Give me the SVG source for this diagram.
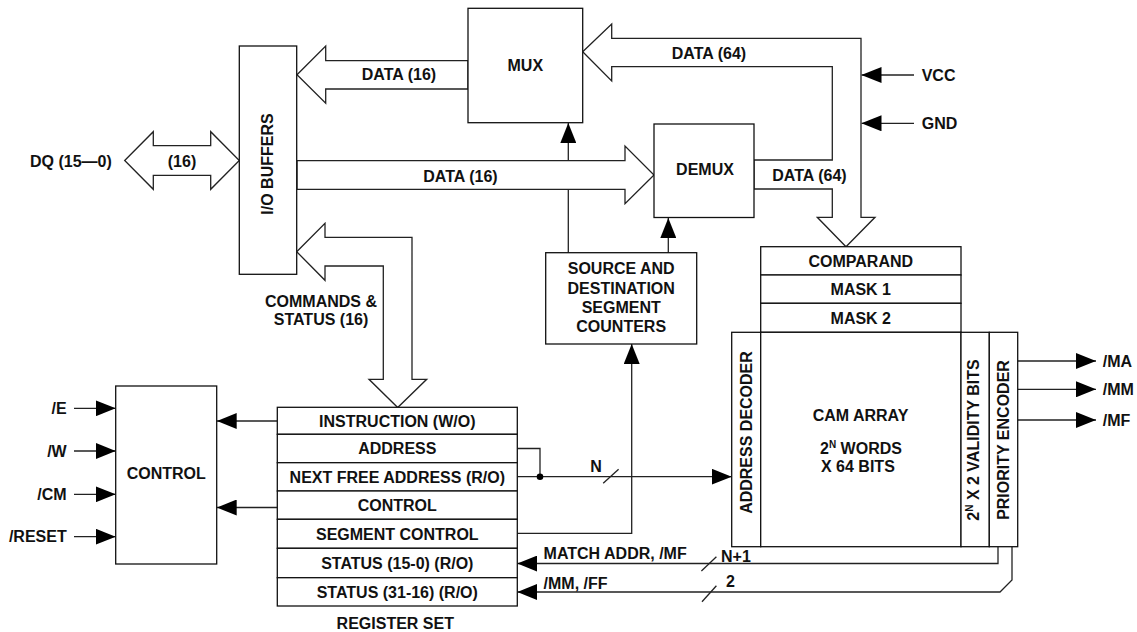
<svg xmlns="http://www.w3.org/2000/svg" width="1137" height="632" viewBox="0 0 1137 632">
<style>
text{font-family:"Liberation Sans",Arial,sans-serif;font-weight:bold;font-size:16px;fill:#111}
.c{text-anchor:middle}
.e{text-anchor:end}
.box{fill:#fff;stroke:#111;stroke-width:1.3}
.ln{fill:none;stroke:#222;stroke-width:1.3}
.bus{fill:#fff;stroke:#222;stroke-width:1.3;stroke-linejoin:miter}
.sup{font-size:10px}
</style>
<defs>
<marker id="ah" markerUnits="userSpaceOnUse" markerWidth="20" markerHeight="16" refX="20" refY="8" orient="auto" viewBox="0 0 20 16"><path d="M0,0 L20,8 L0,16 z" fill="#000"/></marker>
</defs>
<rect width="1137" height="632" fill="#fff"/>

<g id="connectors">
  <line class="ln" x1="568.3" y1="253" x2="568.3" y2="123" marker-end="url(#ah)"/>
  <line class="ln" x1="668.3" y1="253" x2="668.3" y2="218" marker-end="url(#ah)"/>
  <line class="ln" x1="914" y1="75" x2="861.5" y2="75" marker-end="url(#ah)"/>
  <line class="ln" x1="914" y1="123.3" x2="861.5" y2="123.3" marker-end="url(#ah)"/>
  <line class="ln" x1="74" y1="408.3" x2="115.7" y2="408.3" marker-end="url(#ah)"/>
  <line class="ln" x1="74" y1="451" x2="115.7" y2="451" marker-end="url(#ah)"/>
  <line class="ln" x1="74" y1="494.3" x2="115.7" y2="494.3" marker-end="url(#ah)"/>
  <line class="ln" x1="74" y1="536.7" x2="115.7" y2="536.7" marker-end="url(#ah)"/>
  <line class="ln" x1="277.3" y1="421" x2="216.7" y2="421" marker-end="url(#ah)"/>
  <line class="ln" x1="277.3" y1="507.5" x2="216.7" y2="507.5" marker-end="url(#ah)"/>
  <polyline class="ln" points="517.3,448.5 540,448.5 540,476.7"/>
  <line class="ln" x1="517.3" y1="476.7" x2="731.7" y2="476.7" marker-end="url(#ah)"/>
  <circle cx="540" cy="476.7" r="3.3" fill="#000"/>
  <line class="ln" x1="603.2" y1="483.3" x2="618.6" y2="469.3"/>
  <polyline class="ln" points="517.3,533.3 631.7,533.3 631.7,344" marker-end="url(#ah)"/>
  <polyline class="ln" points="998,546.7 998,563.5 517.3,563.5" marker-end="url(#ah)"/>
  <line class="ln" x1="701.4" y1="571" x2="716.4" y2="556.7"/>
  <polyline class="ln" points="1012,546.7 1012,580 1000,592 517.3,592" marker-end="url(#ah)"/>
  <line class="ln" x1="702" y1="601.7" x2="716.4" y2="585.7"/>
  <line class="ln" x1="1017.7" y1="361" x2="1096" y2="361" marker-end="url(#ah)"/>
  <line class="ln" x1="1017.7" y1="389.3" x2="1096" y2="389.3" marker-end="url(#ah)"/>
  <line class="ln" x1="1017.7" y1="420" x2="1096" y2="420" marker-end="url(#ah)"/>
  <!-- bus arrows -->
  <polygon class="bus" points="124.7,160.5 153.3,131.7 153.3,145.7 210.7,145.7 210.7,131.7 239.3,160.5 210.7,189.3 210.7,175.3 153.3,175.3 153.3,189.3"/>
  <polygon class="bus" points="297,74.7 325.7,46 325.7,60.7 468,60.7 468,89 325.7,89 325.7,103.3"/>
  <polygon class="bus" points="297,160.7 625,160.7 625,146 654,175 625,203.6 625,189.3 297,189.3"/>
  <polygon class="bus" points="296.7,251.7 325,223.3 325,237.3 412,237.3 412,379.3 426.7,379.3 397.7,407.5 369,379.3 383.3,379.3 383.3,266 325,266 325,280.3"/>
  <polygon class="bus" points="582.7,51.7 611.7,24 611.7,38.3 861,38.3 861,217.3 875,217.3 846,246.7 817.3,217.3 832.3,217.3 832.3,189 754,189 754,160 832.3,160 832.3,66.7 611.7,66.7 611.7,81"/>
  <!-- connector labels -->
  <text x="30" y="166.5">DQ (15—0)</text>
  <text class="c" x="182" y="166.5">(16)</text>
  <text class="c" x="399" y="80.4">DATA (16)</text>
  <text class="c" x="460.5" y="181.7">DATA (16)</text>
  <text class="c" x="709" y="58.7">DATA (64)</text>
  <text class="c" x="809.5" y="180.7">DATA (64)</text>
  <text x="921.7" y="80.7">VCC</text>
  <text x="921.7" y="129">GND</text>
  <text class="c" x="321" y="307.4">COMMANDS &amp;</text>
  <text class="c" x="321" y="325">STATUS (16)</text>
  <text class="e" x="66.7" y="414">/E</text>
  <text class="e" x="66.7" y="456.7">/W</text>
  <text class="e" x="66.7" y="500">/CM</text>
  <text class="e" x="66.7" y="542.4">/RESET</text>
  <text x="1102.7" y="366.7">/MA</text>
  <text x="1102.7" y="395">/MM</text>
  <text x="1102.7" y="425.7">/MF</text>
  <text class="c" x="596" y="472.4">N</text>
  <text x="543.6" y="559">MATCH ADDR, /MF</text>
  <text x="721" y="562.4">N+1</text>
  <text x="543.6" y="589">/MM, /FF</text>
  <text x="726" y="587.4">2</text>
</g>

<g id="mux"><rect class="box" x="468" y="8.3" width="114.7" height="114.4"/><text class="c" x="525.3" y="70.7">MUX</text></g>
<g id="demux"><rect class="box" x="654" y="124" width="100" height="93.5"/><text class="c" x="705" y="174.7">DEMUX</text></g>
<g id="io-buffers"><rect class="box" x="239.3" y="46" width="57.4" height="228.3"/><text class="c" transform="translate(272.5,164) rotate(-90)" x="0" y="0">I/O BUFFERS</text></g>
<g id="counters"><rect class="box" x="545.7" y="252.7" width="151" height="91.3"/>
  <text class="c" x="621.2" y="274">SOURCE AND</text>
  <text class="c" x="621.2" y="294">DESTINATION</text>
  <text class="c" x="621.2" y="313.4">SEGMENT</text>
  <text class="c" x="621.2" y="332.4">COUNTERS</text></g>
<g id="control"><rect class="box" x="115.7" y="386" width="101" height="178"/><text class="c" x="166.2" y="479">CONTROL</text></g>
<g id="register-set">
  <rect class="box" x="277.3" y="407.3" width="240" height="27"/><text class="c" x="397.3" y="426.5">INSTRUCTION (W/O)</text>
  <rect class="box" x="277.3" y="434.3" width="240" height="28.4"/><text class="c" x="397.3" y="454.2">ADDRESS</text>
  <rect class="box" x="277.3" y="462.7" width="240" height="28.3"/><text class="c" x="397.3" y="482.5">NEXT FREE ADDRESS (R/O)</text>
  <rect class="box" x="277.3" y="491" width="240" height="28.3"/><text class="c" x="397.3" y="510.8">CONTROL</text>
  <rect class="box" x="277.3" y="519.3" width="240" height="29"/><text class="c" x="397.3" y="539.5">SEGMENT CONTROL</text>
  <rect class="box" x="277.3" y="548.3" width="240" height="29.4"/><text class="c" x="397.3" y="568.7">STATUS (15-0) (R/O)</text>
  <rect class="box" x="277.3" y="577.7" width="240" height="28.3"/><text class="c" x="397.3" y="597.5">STATUS (31-16) (R/O)</text>
  <text class="c" x="395.3" y="629">REGISTER SET</text>
</g>
<g id="comparand"><rect class="box" x="760.7" y="246.7" width="200.3" height="28.3"/><text class="c" x="860.8" y="266.7">COMPARAND</text></g>
<g id="mask1"><rect class="box" x="760.7" y="275" width="200.3" height="28.3"/><text class="c" x="860.8" y="294.8">MASK 1</text></g>
<g id="mask2"><rect class="box" x="760.7" y="303.3" width="200.3" height="29"/><text class="c" x="860.8" y="323.5">MASK 2</text></g>
<g id="address-decoder"><rect class="box" x="731.7" y="332.3" width="29" height="214.4"/><text class="c" transform="translate(751.5,432.5) rotate(-90)">ADDRESS DECODER</text></g>
<g id="cam-array"><rect class="box" x="760.7" y="332.3" width="200.3" height="214.4"/>
  <text class="c" x="860.5" y="420.7">CAM ARRAY</text>
  <text x="820" y="454">2<tspan class="sup" dy="-6">N</tspan><tspan dy="6"> WORDS</tspan></text>
  <text x="821" y="472.4">X 64 BITS</text></g>
<g id="validity-bits"><rect class="box" x="961" y="332.3" width="28.3" height="214.4"/><text class="c" transform="translate(979,440) rotate(-90)">2<tspan class="sup" dy="-6">N</tspan><tspan dy="6"> X 2 VALIDITY BITS</tspan></text></g>
<g id="priority-encoder"><rect class="box" x="989.3" y="332.3" width="28.4" height="214.4"/><text class="c" transform="translate(1009,440) rotate(-90)">PRIORITY ENCODER</text></g>
</svg>
